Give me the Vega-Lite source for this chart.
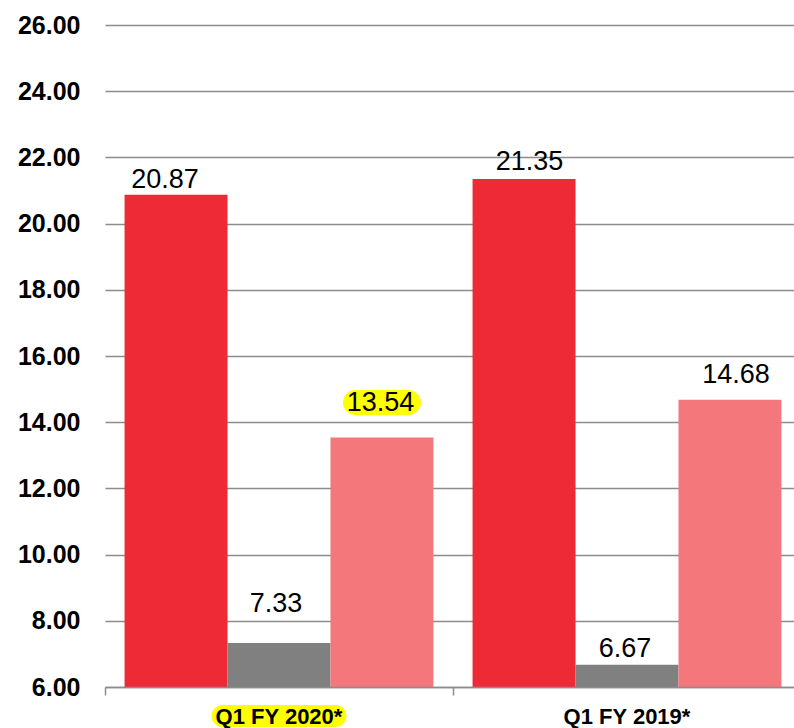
{
  "$schema": "https://vega.github.io/schema/vega-lite/v6.json",
  "autosize": "none",
  "width": 691,
  "height": 662,
  "padding": {"left": 103, "top": 25, "right": 0, "bottom": 41},
  "background": "white",
  "config": {
    "view": {"stroke": null},
    "font": "Liberation Sans",
    "text": {"font": "Liberation Sans"}
  },
  "data": {
    "values": [
      {"group": "Q1 FY 2020*", "series": "A", "value": 20.87},
      {"group": "Q1 FY 2020*", "series": "B", "value": 7.33},
      {"group": "Q1 FY 2020*", "series": "C", "value": 13.54},
      {"group": "Q1 FY 2019*", "series": "A", "value": 21.35},
      {"group": "Q1 FY 2019*", "series": "B", "value": 6.67},
      {"group": "Q1 FY 2019*", "series": "C", "value": 14.68}
    ]
  },
  "encoding": {
    "x": {
      "field": "group",
      "type": "nominal",
      "scale": {"domain": ["Q1 FY 2020*", "Q1 FY 2019*"], "range": [2, 698], "paddingInner": 0, "paddingOuter": 0},
      "axis": {
        "title": null,
        "orient": "bottom",
        "domain": true,
        "domainColor": "#8C8C8C",
        "domainWidth": 1.5,
        "ticks": true,
        "tickSize": 8,
        "tickColor": "#8C8C8C",
        "tickWidth": 1.5,
        "bandPosition": 0,
        "labelAngle": 0,
        "labelFont": "Liberation Sans",
        "labelFontWeight": "bold",
        "labelFontSize": 22,
        "labelColor": "black",
        "labelPadding": 11,
        "zindex": 1
      }
    },
    "xOffset": {
      "field": "series",
      "type": "nominal",
      "scale": {"domain": ["A", "B", "C"], "paddingOuter": 0.19, "paddingInner": 0}
    },
    "y": {
      "field": "value",
      "type": "quantitative",
      "scale": {"domain": [6, 26], "nice": false, "zero": false},
      "axis": {
        "title": null,
        "values": [6, 8, 10, 12, 14, 16, 18, 20, 22, 24, 26],
        "format": ".2f",
        "domain": false,
        "ticks": false,
        "grid": true,
        "gridColor": "#8C8C8C",
        "gridWidth": 1.5,
        "labelFont": "Liberation Sans",
        "labelFontWeight": "bold",
        "labelFontSize": 25,
        "labelColor": "black",
        "labelPadding": 23
      }
    }
  },
  "layer": [
    {
      "mark": {"type": "bar"},
      "encoding": {
        "y2": {"datum": 6},
        "color": {
          "field": "series",
          "type": "nominal",
          "scale": {"domain": ["A", "B", "C"], "range": ["#EE2A36", "#808080", "#F4787B"]},
          "legend": null
        }
      }
    },
    {
      "transform": [{"filter": "datum.value == 13.54"}],
      "mark": {
        "type": "point",
        "filled": true,
        "color": "#FFFF00",
        "opacity": 1,
        "strokeWidth": 0,
        "size": 6084,
        "yOffset": -35,
        "shape": "M -0.68 -0.32 L 0.68 -0.32 A 0.32 0.32 0 0 1 0.68 0.32 L -0.68 0.32 A 0.32 0.32 0 0 1 -0.68 -0.32 Z"
      },
      "encoding": {}
    },
    {
      "transform": [{"filter": "datum.value == 13.54"}],
      "mark": {
        "type": "point",
        "filled": true,
        "color": "#FFFF00",
        "opacity": 1,
        "strokeWidth": 0,
        "size": 18225,
        "yOffset": 29,
        "shape": "M -0.837 -0.163 L 0.837 -0.163 A 0.163 0.163 0 0 1 0.837 0.163 L -0.837 0.163 A 0.163 0.163 0 0 1 -0.837 -0.163 Z"
      },
      "encoding": {"xOffset": {"datum": "B"}, "y": {"datum": 6}}
    },
    {
      "transform": [{"filter": "datum.value == 20.87"}],
      "mark": {"type": "text", "fontSize": 27, "color": "black", "baseline": "alphabetic", "align": "center", "dx": -11, "dy": -7},
      "encoding": {"text": {"field": "value", "format": ".2f"}}
    },
    {
      "transform": [{"filter": "datum.value == 7.33"}],
      "mark": {"type": "text", "fontSize": 27, "color": "black", "baseline": "alphabetic", "align": "center", "dx": -3, "dy": -31},
      "encoding": {"text": {"field": "value", "format": ".2f"}}
    },
    {
      "transform": [{"filter": "datum.value == 13.54"}],
      "mark": {"type": "text", "fontSize": 27, "color": "black", "baseline": "alphabetic", "align": "center", "dx": -1.5, "dy": -26},
      "encoding": {"text": {"field": "value", "format": ".2f"}}
    },
    {
      "transform": [{"filter": "datum.value == 21.35"}],
      "mark": {"type": "text", "fontSize": 27, "color": "black", "baseline": "alphabetic", "align": "center", "dx": 5.5, "dy": -9},
      "encoding": {"text": {"field": "value", "format": ".2f"}}
    },
    {
      "transform": [{"filter": "datum.value == 6.67"}],
      "mark": {"type": "text", "fontSize": 27, "color": "black", "baseline": "alphabetic", "align": "center", "dx": -2, "dy": -8},
      "encoding": {"text": {"field": "value", "format": ".2f"}}
    },
    {
      "transform": [{"filter": "datum.value == 14.68"}],
      "mark": {"type": "text", "fontSize": 27, "color": "black", "baseline": "alphabetic", "align": "center", "dx": 6, "dy": -17},
      "encoding": {"text": {"field": "value", "format": ".2f"}}
    }
  ]
}
